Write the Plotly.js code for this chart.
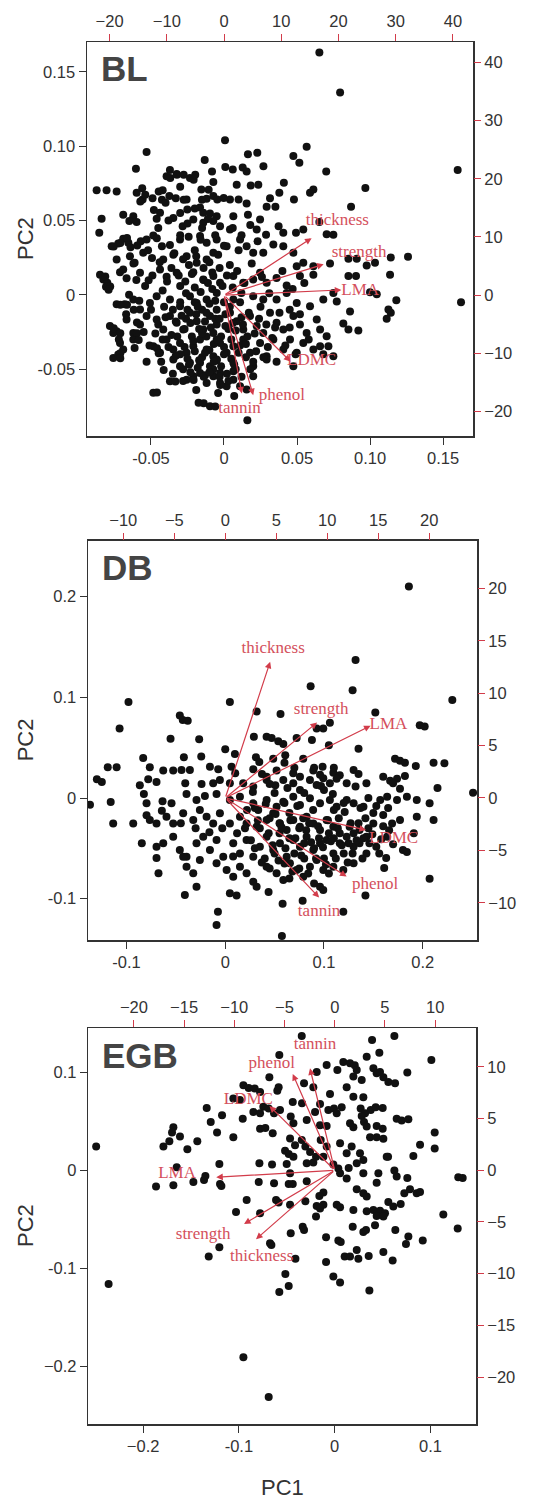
<!DOCTYPE html>
<html>
<head>
<meta charset="utf-8">
<script src="https://cdn.plot.ly/plotly-3.0.1.min.js"></script>
<style>html,body{margin:0;padding:0;background:#fff;}#chart{width:536px;height:1499px;}</style>
</head>
<body>
<div id="chart"></div>
<script>
// ---------------- DATA ----------------
const panelNames = ['BL', 'DB', 'EGB'];
const traits = ['thickness', 'strength', 'LMA', 'LDMC', 'phenol', 'tannin'];

// PC scores (PC1, PC2)
const blPoints = [
[0.0653,0.1629],[0.0795,0.1360],[0.1600,0.0839],[0.1623,-0.0049],[0.1260,0.0256],[0.0968,0.0718],[0.0566,0.0996],[0.0007,0.1040],[-0.0530,0.0960],[-0.0603,0.0848],[0.0475,0.0933],[0.0516,0.0888],[0.0700,0.0830],[0.0870,0.0592],
[0.0164,0.0946],[0.0228,0.0955],[-0.0132,0.0906],[-0.0370,0.0839],[-0.0324,0.0812],[0.0009,0.0860],[0.0060,0.0843],[0.0128,0.0856],[0.0155,0.0830],[0.0270,0.0865],[-0.0082,0.0830],[-0.0233,0.0785],[-0.0393,0.0798],
[-0.0872,0.0704],[-0.0804,0.0704],[-0.0735,0.0695],[-0.0560,0.0717],[-0.0420,0.0704],[-0.0300,0.0726],[-0.0155,0.0708],[-0.0073,0.0758],[0.0087,0.0740],[0.0183,0.0735],[0.0235,0.0740],[0.0410,0.0753],[0.0379,0.0686],[0.0589,0.0686],[0.0612,0.0708],[0.0315,0.0650],
[-0.0598,0.0686],[-0.0557,0.0641],[-0.0489,0.0650],[-0.0374,0.0664],[-0.0256,0.0641],[-0.0119,0.0646],[-0.0073,0.0664],[-0.0046,0.0641],[0.0041,0.0641],[0.0100,0.0641],[0.0479,0.0641],[0.0292,0.0592],[0.0352,0.0592],[0.0155,0.0614],[-0.0164,0.0587],[-0.0251,0.0574],[-0.0142,0.0552],[-0.0096,0.0547],[-0.0050,0.0529],
[-0.0838,0.0511],[-0.0690,0.0538],[-0.0621,0.0529],[-0.0648,0.0496],[-0.0598,0.0489],[-0.0854,0.0417],[-0.0461,0.0511],[-0.0438,0.0552],[-0.0347,0.0516],[-0.0283,0.0462],[-0.0210,0.0507],[-0.0142,0.0484],[-0.0073,0.0496],[-0.0027,0.0462],[0.0041,0.0439],[0.0064,0.0529],[0.0164,0.0538],[0.0247,0.0507],[0.0224,0.0439],[0.0288,0.0404],[0.0374,0.0462],[0.0406,0.0417],[0.0493,0.0417],[0.0543,0.0439],[0.0703,0.0408],[0.0749,0.0404],[0.0653,0.0489],
[-0.0769,0.0327],[-0.0724,0.0345],[-0.0690,0.0377],[-0.0655,0.0350],[-0.0594,0.0332],[-0.0530,0.0372],[-0.0484,0.0399],[-0.0425,0.0327],[-0.0370,0.0336],[-0.0301,0.0372],[-0.0242,0.0390],[-0.0164,0.0395],[-0.0119,0.0350],[-0.0050,0.0372],[0.0018,0.0327],[0.0110,0.0372],[0.0155,0.0327],[0.0200,0.0283],[0.0269,0.0283],[0.0338,0.0339],[0.0406,0.0327],[0.0475,0.0283],[0.0543,0.0215],[0.0612,0.0193],[0.0498,0.0193],
[-0.0735,0.0238],[-0.0644,0.0260],[-0.0612,0.0215],[-0.0553,0.0283],[-0.0493,0.0247],[-0.0416,0.0238],[-0.0347,0.0269],[-0.0256,0.0260],[-0.0187,0.0215],[-0.0119,0.0238],[-0.0073,0.0283],[-0.0849,0.0135],[-0.0826,0.0103],[-0.0799,0.0081],[-0.0808,0.0054],
[0.0852,0.0242],[0.0909,0.0242],[0.0852,0.0126],[0.0904,0.0126],[0.0977,0.0197],[0.1034,0.0215],[0.1137,0.0135],[0.1142,0.0251],[0.1000,0.0018],[0.1046,0.0004],[0.0726,0.0210],
[-0.0712,0.0152],[-0.0667,0.0112],[-0.0575,0.0148],[-0.0516,0.0099],[-0.0438,0.0170],[-0.0393,0.0121],[-0.0324,0.0148],[-0.0265,0.0090],[-0.0210,0.0152],[-0.0142,0.0103],[-0.0073,0.0126],[-0.0027,0.0081],[0.0064,0.0126],[0.0132,0.0081],[0.0200,0.0103],[0.0247,0.0148],[0.0292,0.0081],[0.0360,0.0114],[0.0429,0.0063],[0.0520,0.0126],[0.0612,0.0135],[0.0749,0.0013],[0.0772,-0.0045],
[0.1180,-0.0036],[0.1126,-0.0099],[0.1142,-0.0121],[0.1114,-0.0161],
[-0.0735,-0.0063],[-0.0680,-0.0063],[-0.0621,-0.0031],[-0.0575,-0.0099],[-0.0507,-0.0054],[-0.0461,-0.0009],[-0.0370,-0.0031],[-0.0301,-0.0076],[-0.0233,-0.0009],[-0.0187,-0.0054],[-0.0119,-0.0031],[-0.0050,0.0013],[0.0064,-0.0031],[0.0119,0.0013],[0.0200,-0.0009],[0.0269,-0.0031],[0.0360,-0.0031],[0.0429,0.0013],[0.0498,-0.0054],[0.0589,-0.0076],[0.0680,-0.0031],
[-0.0781,-0.0210],[-0.0735,-0.0244],[-0.0667,-0.0166],[-0.0621,-0.0256],[-0.0575,-0.0200],[-0.0530,-0.0143],[-0.0461,-0.0166],[-0.0416,-0.0233],[-0.0370,-0.0143],[-0.0324,-0.0188],[-0.0279,-0.0233],[-0.0233,-0.0121],[-0.0187,-0.0177],[-0.0142,-0.0233],[-0.0096,-0.0143],[-0.0050,-0.0200],[-0.0073,-0.0256],[0.0041,-0.0121],[0.0087,-0.0177],[0.0132,-0.0233],[0.0178,-0.0143],[0.0224,-0.0210],[0.0269,-0.0256],[0.0315,-0.0121],[0.0360,-0.0188],[0.0406,-0.0233],[0.0475,-0.0143],[0.0520,-0.0200],[0.0566,-0.0256],[0.0635,-0.0166],[0.0658,-0.0233],[0.0817,-0.0193],[0.0852,-0.0233],[0.0920,-0.0240],[0.0863,-0.0112],
[-0.0758,-0.0256],[-0.0712,-0.0323],[-0.0690,-0.0368],[-0.0621,-0.0300],[-0.0612,-0.0357],[-0.0484,-0.0345],[-0.0438,-0.0390],[-0.0393,-0.0300],[-0.0347,-0.0368],[-0.0301,-0.0323],[-0.0256,-0.0390],[-0.0210,-0.0345],[-0.0164,-0.0300],[-0.0119,-0.0368],[-0.0073,-0.0413],[-0.0027,-0.0323],[0.0018,-0.0390],[0.0064,-0.0345],[0.0132,-0.0300],[0.0178,-0.0390],[0.0247,-0.0323],[0.0292,-0.0413],[0.0338,-0.0300],[0.0406,-0.0368],[0.0452,-0.0300],[0.0498,-0.0390],[0.0543,-0.0323],[0.0612,-0.0368],[0.0658,-0.0345],[0.0703,-0.0278],[0.0715,-0.0345],[0.0680,-0.0399],[0.0749,-0.0413],[0.0475,-0.0480],
[-0.0347,-0.0435],[-0.0301,-0.0480],[-0.0233,-0.0457],[-0.0164,-0.0457],[-0.0096,-0.0480],[-0.0050,-0.0435],[0.0064,-0.0457],[0.0200,-0.0480],[0.0292,-0.0435],
[-0.0758,-0.0424],[-0.0724,-0.0401],
[-0.0484,-0.0659],[-0.0370,-0.0581],[-0.0256,-0.0570],[-0.0210,-0.0547],[-0.0164,-0.0525],[-0.0119,-0.0592],[-0.0073,-0.0547],[-0.0027,-0.0592],[0.0018,-0.0614],[0.0064,-0.0570],[0.0110,-0.0614],[0.0155,-0.0637],[-0.0174,-0.0726],[-0.0096,-0.0749],[0.0160,-0.0843],[-0.0027,-0.0525],[-0.0073,-0.0502],[0.0064,-0.0513],[0.0200,-0.0547],
[-0.035,-0.010],[-0.030,-0.005],[-0.025,-0.010],[-0.020,-0.005],[-0.015,-0.010],[-0.010,-0.006],[-0.005,-0.010],[0.000,-0.005],
[-0.032,-0.028],[-0.027,-0.023],[-0.022,-0.028],[-0.017,-0.023],[-0.012,-0.028],[-0.007,-0.033],[-0.002,-0.028],[0.003,-0.023],
[-0.030,-0.040],[-0.025,-0.043],[-0.020,-0.038],[-0.015,-0.042],[-0.010,-0.037],[-0.005,-0.044],[0.000,-0.040],[0.005,-0.043],
[-0.028,-0.050],[-0.023,-0.052],[-0.018,-0.049],[-0.013,-0.054],[-0.008,-0.050],[-0.003,-0.055],[0.002,-0.053],[0.008,-0.050],
[-0.040,-0.015],[-0.045,-0.020],[-0.050,-0.010],[-0.042,-0.030],[-0.038,-0.035],[-0.033,-0.018],[-0.026,-0.016],[-0.019,-0.013],
[-0.013,-0.018],[-0.006,-0.016],[0.001,-0.013],[0.006,-0.019],[0.012,-0.015],[0.016,-0.028],[0.011,-0.034],[0.015,-0.042],
[-0.020,0.005],[-0.014,0.010],[-0.008,0.004],[-0.030,0.006],[-0.036,0.018],[-0.042,0.003],[-0.024,0.020],[-0.010,0.022],
[-0.003,0.018],[0.004,0.020],[0.010,0.030],[-0.020,0.030],[-0.030,0.040],[-0.015,0.045],[-0.045,0.045],[-0.052,0.030],
[-0.060,0.010],[-0.055,-0.025],[-0.065,0.000],[0.025,-0.008],[0.030,-0.035],[0.020,-0.045],[0.035,-0.022],[0.045,-0.010],
[-0.0755,0.0325],[-0.0710,0.0348],[-0.0664,0.0382],[-0.0813,0.0123],[-0.0779,0.0056],[-0.0790,0.0034],[-0.0710,-0.0067],[-0.0664,-0.0067],[-0.0618,-0.0101],
[-0.0755,-0.0224],[-0.0710,-0.0258],[-0.0596,-0.0186],[-0.0596,-0.0258],[-0.0584,-0.0303],[-0.0710,-0.0392],[-0.0710,-0.0426],[-0.0459,-0.0359],[-0.0447,-0.0392],
[-0.0413,-0.0505],[-0.0333,-0.0583],[-0.0459,-0.0657],[-0.0139,-0.0729],[-0.0060,-0.0751],[-0.0208,-0.0572],[-0.0139,-0.0550],[-0.0025,-0.0606],
[-0.0368,0.0785],[-0.0322,0.0808],[-0.0276,0.0808],[-0.0208,0.0774],[-0.0197,0.0808],[-0.0447,0.0695],[-0.0539,0.0673],[-0.0425,0.0639],[-0.0573,0.0628],
[-0.0276,0.0639],[-0.0151,0.0639],[-0.0105,0.0707],[-0.0002,0.0651],
[-0.058,-0.004],[-0.054,0.006],[-0.049,0.013],[-0.047,-0.026],[-0.044,0.022],[-0.041,-0.008],[-0.039,0.009],[-0.036,-0.027],[-0.034,0.028],[-0.033,-0.041],[-0.031,0.013],[-0.029,-0.014],[-0.028,0.024],[-0.027,-0.035],[-0.026,0.001],[-0.024,-0.047],[-0.023,-0.019],[-0.022,0.014],[-0.021,-0.031],[-0.019,0.026],[-0.018,-0.008],[-0.017,-0.044],[-0.016,0.002],[-0.015,-0.026],[-0.014,0.018],[-0.013,-0.039],[-0.012,-0.012],[-0.011,0.008],[-0.010,-0.052],[-0.009,-0.022],[-0.008,0.015],[-0.007,-0.045],[-0.006,-0.004],[-0.005,-0.030],[-0.004,0.027],[-0.003,-0.016],[-0.002,-0.048],[-0.001,0.006],[0.000,-0.035],[0.001,-0.021],[0.002,0.013],[0.003,-0.058],[0.004,-0.008],[0.005,-0.030],[0.006,0.005],[0.007,-0.047],[0.008,-0.024],[0.009,0.016],[0.010,-0.039],[0.011,-0.005],[0.012,-0.055],[0.013,-0.020],[0.014,0.008],[0.015,-0.033],[0.017,-0.012],[0.018,-0.050],[0.019,0.021],[0.021,-0.026],[0.022,-0.038],[0.024,-0.016],[0.026,0.012],[0.027,-0.042],[0.029,-0.020],[0.031,0.001],[0.033,-0.029],[0.036,-0.045],[0.038,-0.012],[0.040,0.016],[0.042,-0.034],[0.045,-0.022],[0.047,0.004],[0.049,-0.040],[0.052,-0.013],[0.055,0.008],[0.058,-0.030],
[-0.062,0.021],[-0.057,0.036],[-0.051,-0.034],[-0.046,0.038],[-0.043,-0.045],[-0.038,0.050],[-0.035,-0.053],[-0.030,0.055],[-0.025,0.048],[-0.020,0.058],[-0.016,0.037],[-0.011,0.051],[-0.006,0.040],[0.000,0.033],[0.006,0.045],[0.012,0.040],[0.018,0.047],[0.023,0.036],[-0.067,-0.013],[-0.064,0.032],[-0.069,0.017],[-0.072,-0.030],[-0.048,0.057],[-0.053,-0.045],[-0.040,0.062],[-0.028,-0.058],[-0.019,-0.064],[-0.004,-0.066],[0.007,-0.068],[-0.033,0.065]
];

const dbPoints = [
[0.186,0.210],[0.132,0.137],[0.129,0.107],[0.0865,0.111],[0.0047,0.0954],[-0.098,0.0954],[0.230,0.0974],[0.0318,0.086],[0.056,0.0834],[0.152,0.0848],[-0.107,0.0689],[-0.046,0.082],[-0.043,0.0775],[-0.038,0.0768],[0.197,0.0722],[0.202,0.0709],[0.106,0.0748],[0.0926,0.0689],[0.0993,0.0689],[-0.0554,0.0589],[-0.0264,0.0583],[0.029,0.0609],[0.0419,0.0609],[0.047,0.0596],[0.0537,0.0563],[0.0588,0.0536],[0.0723,0.0596],[0.0878,0.0576],[0.105,0.0523],[0.135,0.049],[0.0,0.0483],[0.0098,0.0437],
[-0.0831,0.0397],[-0.0419,0.0404],[-0.0243,0.0411],[0.0311,0.0404],[0.0345,0.0358],[0.0486,0.0391],[0.0608,0.0424],[0.079,0.0391],[0.0986,0.0311],[0.172,0.0391],[0.177,0.0371],[0.182,0.0351],[0.193,0.0318],[0.211,0.0351],[0.222,0.0344],[-0.119,0.0305],[-0.110,0.0305],[-0.0764,0.0305],[-0.0628,0.0272],[-0.0527,0.0272],[-0.0443,0.0278],[-0.0358,0.0278],[-0.0155,0.0311],[-0.0071,0.0285],[0.0064,0.0311],[0.0101,0.0245],[0.0284,0.0285],[0.0372,0.0238],[0.0419,0.0212],[0.052,0.0272],[0.0689,0.0245],[0.0757,0.0212],[0.0892,0.0272],[0.096,0.0232],[0.1095,0.0252],[0.116,0.0225],[0.130,0.0278],[0.135,0.0238],[0.160,0.0212],[0.167,0.0172],[0.174,0.0192],[0.182,0.0219],[0.215,0.0099],
[-0.130,0.0185],[-0.125,0.0159],[-0.0865,0.0126],[-0.078,0.0185],[-0.0696,0.0159],[-0.0405,0.0146],[-0.024,0.0139],[-0.0122,0.0146],[-0.0054,0.0179],[0.0047,0.0146],[0.0182,0.0146],[0.0284,0.0113],[0.0419,0.0179],[0.0507,0.0126],[0.0588,0.0179],[0.0689,0.0146],[0.0757,0.0079],[0.0858,0.0179],[0.0926,0.0129],[0.0993,0.0195],[0.106,0.0146],[0.1128,0.0192],[0.123,0.0146],[0.132,0.0113],[0.143,0.0146],[0.170,0.0146],[0.177,0.0093],
[-0.137,-0.0066],[0.251,0.0053],[-0.116,-0.004],[-0.0824,0.004],[-0.0797,-0.0053],[-0.0635,-0.0033],[-0.0544,-0.0053],[-0.0392,0.004],[-0.0291,-0.002],[-0.0206,0.002],[-0.0088,0.004],[0.0047,-0.002],[0.0149,0.0013],[0.0284,-0.0053],[0.0334,-0.0119],[0.0419,-0.002],[0.052,-0.0086],[0.0588,-0.0036],[0.0689,0.0013],[0.0757,-0.007],[0.0858,-0.0003],[0.096,-0.0053],[0.106,-0.002],[0.1128,-0.0086],[0.123,-0.002],[0.130,-0.0053],[0.140,-0.0086],[0.157,-0.002],[0.164,0.0013],[0.174,-0.002],[0.184,0.0013],[0.194,-0.002],[0.207,-0.0053],
[-0.1135,-0.0252],[-0.0932,-0.0252],[-0.0797,-0.0172],[-0.0764,-0.0219],[-0.0696,-0.0252],[-0.0642,-0.0126],[-0.0595,-0.0185],[-0.0527,-0.0252],[-0.0426,-0.0152],[-0.0324,-0.0219],[-0.0257,-0.0119],[-0.0189,-0.0185],[-0.0122,-0.0252],[-0.0054,-0.0152],[0.0047,-0.0252],[0.0149,-0.0185],[0.0216,-0.0252],[0.0318,-0.0285],[0.0419,-0.0219],[0.0486,-0.0152],[0.0554,-0.0252],[0.0622,-0.0318],[0.0689,-0.0219],[0.0757,-0.0285],[0.0824,-0.0185],[0.0892,-0.0252],[0.096,-0.0318],[0.1027,-0.0219],[0.1095,-0.0285],[0.116,-0.0351],[0.126,-0.0285],[0.136,-0.0318],[0.143,-0.0384],[0.150,-0.0252],[0.160,-0.0169],[0.169,-0.0252],[0.177,-0.0219],[0.194,-0.0185],[0.211,-0.0219],[0.191,-0.0351],
[-0.0845,-0.045],[-0.0696,-0.0483],[-0.0628,-0.045],[-0.0696,-0.0596],[-0.0676,-0.0748],[-0.0527,-0.0384],[-0.046,-0.0517],[-0.0392,-0.0583],[-0.0291,-0.045],[-0.0223,-0.0384],[-0.0155,-0.0517],[-0.0088,-0.0417],[-0.002,-0.0583],[0.0081,-0.045],[0.0149,-0.055],[0.0216,-0.0417],[0.0284,-0.0583],[0.0351,-0.0483],[0.0419,-0.0384],[0.0486,-0.0517],[0.0554,-0.045],[0.0622,-0.0583],[0.0689,-0.0417],[0.0757,-0.0483],[0.0824,-0.0384],[0.0892,-0.0517],[0.096,-0.045],[0.1027,-0.0417],[0.1095,-0.055],[0.116,-0.045],[0.123,-0.0384],[0.130,-0.0483],[0.136,-0.045],[0.143,-0.055],[0.153,-0.0483],[0.164,-0.0384],[0.180,-0.0517],[0.184,-0.0536],[0.163,-0.0596],
[-0.0426,-0.0583],[-0.0392,-0.0682],[-0.0324,-0.0748],[-0.0257,-0.0616],[-0.0291,-0.088],[-0.0409,-0.0963],[-0.0088,-0.0649],[0.0014,-0.0715],[0.0081,-0.0781],[0.0047,-0.0947],[0.0115,-0.0967],[0.0149,-0.0682],[0.0216,-0.0748],[0.0284,-0.0831],[0.0318,-0.088],[0.0439,-0.0934],[0.0419,-0.0682],[0.052,-0.0748],[0.0588,-0.0815],[0.0655,-0.0649],[0.0723,-0.0715],[0.079,-0.0781],[0.0858,-0.0682],[0.0926,-0.0616],[0.0993,-0.0715],[0.096,-0.088],[0.0993,-0.0914],[0.1095,-0.0682],[0.1196,-0.0715],[0.130,-0.0649],[0.142,-0.0967],[0.161,-0.0695],[0.207,-0.0801],[0.0784,-0.102],[0.0581,-0.105],[0.1196,-0.113],[-0.0074,-0.113],[-0.0088,-0.126],[0.0574,-0.137],
[0.035,-0.030],[0.045,-0.020],[0.055,-0.035],[0.065,-0.015],[0.075,-0.030],[0.085,-0.025],[0.095,-0.040],[0.105,-0.035],[0.115,-0.020],[0.125,-0.045],[0.135,-0.025],[0.145,-0.030],
[0.030,-0.050],[0.040,-0.060],[0.050,-0.055],[0.060,-0.065],[0.070,-0.055],[0.080,-0.060],[0.090,-0.050],[0.100,-0.060],[0.110,-0.040],[0.120,-0.055],[0.130,-0.035],[0.140,-0.040],
[0.020,-0.030],[0.030,-0.010],[0.050,0.005],[0.060,-0.005],[0.080,0.005],[0.100,0.008],[0.110,-0.012],[0.120,-0.005],[0.150,-0.015],[0.160,-0.028],[0.090,0.030],[0.060,0.035],
[0.045,-0.070],[0.065,-0.080],[0.075,-0.070],[0.090,-0.085],[0.105,-0.075],[0.080,-0.045],[0.065,-0.040],[0.055,-0.025],
[0.022,-0.012],[0.026,-0.042],[0.033,-0.022],[0.037,-0.064],[0.041,-0.006],[0.044,-0.035],[0.048,-0.047],[0.051,-0.016],[0.054,-0.062],[0.057,-0.029],[0.061,-0.050],[0.063,0.010],[0.066,-0.022],[0.068,-0.073],[0.071,-0.040],[0.073,-0.008],[0.077,-0.057],[0.079,-0.020],[0.082,-0.032],[0.084,-0.075],[0.087,-0.044],[0.089,-0.012],[0.092,-0.060],[0.094,-0.028],[0.097,0.012],[0.099,-0.049],[0.102,-0.066],[0.104,-0.022],[0.107,-0.043],[0.109,0.004],[0.112,-0.060],[0.114,-0.030],[0.118,-0.047],[0.121,-0.014],[0.124,-0.064],[0.127,-0.025],[0.129,-0.055],[0.133,-0.042],[0.137,-0.010],[0.139,-0.060],[0.142,-0.020],[0.146,-0.045],[0.149,-0.036],[0.153,-0.008],[0.156,-0.055],[0.158,-0.041],[0.166,-0.032],[0.170,-0.046],[0.012,-0.035],[0.008,-0.058],[-0.003,-0.030],[-0.016,-0.034],[-0.030,-0.030],[-0.045,-0.025],[0.028,0.006],[0.045,0.014],[0.070,0.030],[0.110,0.030],[0.145,0.000],[0.165,-0.010]
];

const egbPoints = [
[-0.249,0.0241],[-0.236,-0.1157],[-0.0953,-0.1904],[-0.0689,-0.231],[-0.0344,0.1368],[0.0623,0.1368],[0.039,0.1327],[0.0466,0.1198],[-0.0578,0.1174],[0.1009,0.1124],[-0.0084,0.1073],[0.0028,0.1022],[0.009,0.1103],[0.016,0.109],[0.0209,0.1069],[0.023,0.1022],[0.0282,0.092],[0.0195,0.0954],[0.0334,0.1157],[0.0404,0.1039],[0.0438,0.0988],[0.0473,0.1001],[0.0508,0.0947],[0.056,0.09],[0.063,0.0886],[0.0758,0.0995],[-0.0188,0.1001],[-0.032,0.0886],[-0.0682,0.0947],[-0.0953,0.0866],[-0.0898,0.0838],[-0.0835,0.0832],[-0.0779,0.0798],[-0.1058,0.073],[-0.099,0.0716],[-0.0585,0.0845],[-0.0599,0.0811],[-0.0223,0.0845],[-0.0049,0.0777],[0.0125,0.0845],[0.0195,0.075],[0.0299,0.0743],[-0.0153,0.0675],[-0.0438,0.0696],[-0.0341,0.0682],[-0.1336,0.0635],[-0.0745,0.0648],[-0.0689,0.0628],[-0.0633,0.058],[-0.0571,0.0614],[-0.0849,0.0594],[-0.0779,0.058],[-0.0205,0.0594],[-0.0066,0.0614],[-0.0007,0.0628],[0.0073,0.0642],[0.0021,0.058],[0.0271,0.0628],[0.0317,0.058],[0.0376,0.0614],[0.0428,0.0642],[0.0501,0.0635],[0.0647,0.0526],[0.0699,0.0506],[0.0769,0.0519],[-0.1176,0.056],[-0.1294,0.0492],[-0.096,0.0526],[-0.0779,0.0424],[-0.0724,0.0431],[-0.0647,0.0377],[-0.0459,0.0547],[-0.0431,0.0479],[-0.0292,0.0513],[-0.0153,0.0458],[-0.0084,0.0451],[0.016,0.0479],[0.0195,0.0438],[0.0282,0.0553],[0.0306,0.0492],[0.0334,0.0445],[0.0438,0.0451],[0.0501,0.0424],
[-0.1684,0.0438],[-0.1698,0.0384],[-0.1788,0.0241],[-0.1726,0.0295],[-0.1615,0.0343],[-0.1538,0.0214],[-0.1434,0.0295],[-0.1228,0.0384],[-0.1058,0.0336],[-0.0466,0.0323],[-0.0414,0.0255],[-0.0344,0.0309],[-0.0518,0.02],[-0.048,0.0166],[-0.0431,0.0139],[-0.0306,0.0241],[-0.0257,0.0187],[-0.0195,0.0139],[-0.0146,0.0309],[-0.0084,0.0241],[-0.0118,0.0139],[0.0056,0.0275],[0.0125,0.0173],[0.0177,0.0241],[0.0264,0.0173],[0.0299,0.0105],[0.0369,0.0336],[0.0438,0.0336],[0.0508,0.0322],[0.0543,0.0139],[0.0557,0.0139],[0.0891,0.0261],[0.0821,0.0146],[0.1044,0.0384],[0.1044,0.0221],[0.129,-0.0071],[0.1336,-0.0078],
[-0.0292,0.0071],[-0.0223,0.0078],[-0.0014,0.0058],[0.0038,0.0017],[0.0056,-0.0031],[0.0146,0.0024],[0.023,0.0071],[0.0299,-0.0031],[-0.0501,0.0064],[-0.0466,-0.0031],[-0.0786,0.0071],[-0.0654,0.0058],[-0.1204,0.0064],[-0.1649,0.0031],[-0.1364,-0.0098],[-0.135,-0.0058],[-0.1475,-0.0119],[-0.1684,-0.0153],[-0.1865,-0.0166],[-0.1197,-0.0139],[-0.1183,-0.016],[-0.0793,-0.0119],[-0.0633,-0.0132],[-0.048,-0.0139],[-0.0438,-0.0139],[-0.0292,-0.0112],[-0.0118,-0.0227],[-0.016,-0.0261],[0.023,-0.0193],[0.0299,-0.0234],[0.0334,-0.0268],[0.0438,-0.0126],[0.0456,-0.0031],[0.0623,-0.0003],[0.0647,-0.0064],[0.0758,-0.0078],[0.0727,-0.0234],[0.0786,-0.0193],[0.0856,-0.0234],[0.0891,-0.0221],[0.0125,-0.0085],
[-0.0919,-0.0302],[-0.103,-0.0424],[-0.0779,-0.0438],[-0.0612,-0.0302],[-0.0585,-0.0329],[-0.0466,-0.035],[-0.0188,-0.0363],[-0.0118,-0.035],[-0.0306,-0.0316],[-0.0153,-0.039],[-0.0195,-0.0472],[0.0021,-0.035],[0.0056,-0.0377],[0.0195,-0.0404],[0.0334,-0.0417],[0.0404,-0.0404],[0.0473,-0.0411],[0.0525,-0.0438],[0.056,-0.0322],[0.0612,-0.037],[0.0689,-0.0343],[0.0438,-0.0465],[0.0508,-0.0472],[0.1134,-0.0451],[0.1284,-0.0594],
[-0.0334,-0.0574],[-0.032,-0.0608],[-0.0459,-0.0642],[-0.009,-0.0682],[0.0038,-0.0716],[0.0063,-0.073],[0.0188,-0.0574],[0.0299,-0.0628],[0.0327,-0.0608],[0.0421,-0.056],[0.0633,-0.0608],[0.0769,-0.0675],[0.0744,-0.075],[0.0919,-0.0716],[-0.0675,-0.0743],[-0.0661,-0.076],[-0.1204,-0.0784],[-0.1315,-0.0879],[-0.041,-0.09],[0.0104,-0.0879],[0.016,-0.0879],[0.0247,-0.09],[0.023,-0.0811],[0.0355,-0.0872],[0.0508,-0.0832],[0.0605,-0.092],[-0.009,-0.0933],[-0.0515,-0.1056],[-0.048,-0.1178],[-0.0578,-0.1239],[-0.0014,-0.1083],[0.0056,-0.1144],[0.0362,-0.1225]
];

// Loading arrows (secondary scale): tips, and label positions
const blArrowX = [15.3, 17.4, 20.5, 11.6, 5.1, 3.1];
const blArrowY = [9.8, 5.3, 0.9, -11.4, -17.2, -16.9];
const blLabelX = [19.8, 23.6, 23.8, 15.3, 10.1, 2.7];
const blLabelY = [12.8, 7.3, 0.7, -11.3, -17.2, -19.5];

const dbArrowX = [4.4, 9.0, 14.25, 13.8, 11.9, 9.2];
const dbArrowY = [13.0, 7.2, 6.9, -3.05, -7.5, -9.5];
const dbLabelX = [4.7, 9.4, 16.0, 16.5, 14.7, 9.2];
const dbLabelY = [14.25, 8.4, 7.0, -3.9, -8.3, -10.9];

const egbArrowX = [-7.84, -9.03, -11.8, -6.5, -4.18, -2.46];
const egbArrowY = [-6.67, -5.19, -0.68, 6.22, 9.32, 9.86];
const egbLabelX = [-7.27, -13.1, -15.7, -8.6, -6.27, -1.96];
const egbLabelY = [-8.35, -6.25, -0.35, 6.8, 10.28, 12.12];

// Tick values / labels
const blXTicks = [-0.05, 0, 0.05, 0.10, 0.15];
const blXTickText = ['-0.05', '0', '0.05', '0.10', '0.15'];
const blYTicks = [-0.05, 0, 0.05, 0.10, 0.15];
const blYTickText = ['-0.05', '0', '0.05', '0.10', '0.15'];
const blTopTicks = [-20, -10, 0, 10, 20, 30, 40];
const blRightTicks = [-20, -10, 0, 10, 20, 30, 40];

const dbXTicks = [-0.1, 0, 0.1, 0.2];
const dbXTickText = ['-0.1', '0', '0.1', '0.2'];
const dbYTicks = [-0.1, 0, 0.1, 0.2];
const dbYTickText = ['-0.1', '0', '0.1', '0.2'];
const dbTopTicks = [-10, -5, 0, 5, 10, 15, 20];
const dbRightTicks = [-10, -5, 0, 5, 10, 15, 20];

const egbXTicks = [-0.2, -0.1, 0, 0.1];
const egbXTickText = ['\u22120.2', '-0.1', '0', '0.1'];
const egbYTicks = [-0.2, -0.1, 0, 0.1];
const egbYTickText = ['\u22120.2', '-0.1', '0', '0.1'];
const egbTopTicks = [-20, -15, -10, -5, 0, 5, 10];
const egbRightTicks = [-20, -15, -10, -5, 0, 5, 10];

// ---------------- LAYOUT ----------------
const W = 536, H = 1499;
const RED = '#d23c4a';
const TXTRED = '#d4505c';
const AX = '#333333';
const tickFont = {family: 'Liberation Sans, Arial, sans-serif', size: 16.5, color: '#333'};

const panels = [
  {name: panelNames[0], pts: blPoints, ax: blArrowX, ay: blArrowY, lx: blLabelX, ly: blLabelY,
   box: [87, 473, 42, 436], xr: [-0.0938, 0.1705], yr: [-0.0949, 0.170], x2r: [-23.95, 43.5], y2r: [-24.2, 43.5],
   xt: blXTicks, xtt: blXTickText, yt: blYTicks, ytt: blYTickText, tt: blTopTicks, rt: blRightTicks},
  {name: panelNames[1], pts: dbPoints, ax: dbArrowX, ay: dbArrowY, lx: dbLabelX, ly: dbLabelY,
   box: [88, 477, 540.7, 940], xr: [-0.139, 0.255], yr: [-0.141, 0.2555], x2r: [-13.46, 24.68], y2r: [-13.55, 24.55],
   xt: dbXTicks, xtt: dbXTickText, yt: dbYTicks, ytt: dbYTickText, tt: dbTopTicks, rt: dbRightTicks},
  {name: panelNames[2], pts: egbPoints, ax: egbArrowX, ay: egbArrowY, lx: egbLabelX, ly: egbLabelY,
   box: [88.3, 476, 1028, 1424], xr: [-0.2572, 0.1475], yr: [-0.2584, 0.1449], x2r: [-24.54, 14.07], y2r: [-24.54, 13.76],
   xt: egbXTicks, xtt: egbXTickText, yt: egbYTicks, ytt: egbYTickText, tt: egbTopTicks, rt: egbRightTicks}
];

const traces = [];
const annotations = [];
const layout = {
  width: W, height: H,
  margin: {l: 0, r: 0, t: 0, b: 0},
  paper_bgcolor: '#fff', plot_bgcolor: '#fff',
  showlegend: false,
  font: {family: 'Liberation Sans, Arial, sans-serif', color: '#333'}
};

panels.forEach((p, i) => {
  const n1 = 2 * i + 1, n2 = 2 * i + 2;
  const xa = 'xaxis' + (n1 === 1 ? '' : n1), ya = 'yaxis' + (n1 === 1 ? '' : n1);
  const xa2 = 'xaxis' + n2, ya2 = 'yaxis' + n2;
  const xid = 'x' + (n1 === 1 ? '' : n1), yid = 'y' + (n1 === 1 ? '' : n1);
  const xid2 = 'x' + n2, yid2 = 'y' + n2;
  const dx = [p.box[0] / W, p.box[1] / W];
  const dy = [1 - p.box[3] / H, 1 - p.box[2] / H];

  layout[xa] = {domain: dx, anchor: yid, range: p.xr, tickvals: p.xt, ticktext: p.xtt,
    ticks: 'outside', ticklen: 7, tickwidth: 1, tickcolor: AX, tickfont: tickFont,
    showline: true, mirror: true, linecolor: AX, linewidth: 1.5, showgrid: false, zeroline: false, fixedrange: true};
  layout[ya] = {domain: dy, anchor: xid, range: p.yr, tickvals: p.yt, ticktext: p.ytt,
    ticks: 'outside', ticklen: 7, tickwidth: 1, tickcolor: AX, tickfont: tickFont,
    showline: true, mirror: true, linecolor: AX, linewidth: 1.5, showgrid: false, zeroline: false, fixedrange: true};
  layout[xa2] = {overlaying: xid, side: 'top', anchor: yid, range: p.x2r, tickvals: p.tt,
    ticks: 'outside', ticklen: 7, tickwidth: 1, tickcolor: RED, tickfont: tickFont,
    showline: false, showgrid: false, zeroline: false, fixedrange: true};
  layout[ya2] = {overlaying: yid, side: 'right', anchor: xid, range: p.y2r, tickvals: p.rt,
    ticks: 'outside', ticklen: 7, tickwidth: 1, tickcolor: RED, tickfont: tickFont,
    showline: false, showgrid: false, zeroline: false, fixedrange: true};

  traces.push({
    type: 'scatter', mode: 'markers', xaxis: xid, yaxis: yid,
    x: p.pts.map(d => d[0]), y: p.pts.map(d => d[1]),
    marker: {size: 8, color: '#111'}, hoverinfo: 'skip'
  });
  traces.push({
    type: 'scatter', mode: 'text', xaxis: xid2, yaxis: yid2,
    x: p.lx, y: p.ly, text: traits, textposition: 'middle center',
    textfont: {family: 'Liberation Serif, Times New Roman, serif', size: 17, color: TXTRED},
    hoverinfo: 'skip'
  });
  traits.forEach((t, k) => {
    annotations.push({xref: xid2, yref: yid2, axref: xid2, ayref: yid2,
      x: p.ax[k], y: p.ay[k], ax: 0, ay: 0, text: '', showarrow: true,
      arrowhead: 2, arrowsize: 1.1, arrowwidth: 1.2, arrowcolor: RED, standoff: 0});
  });
  annotations.push({xref: 'paper', yref: 'paper', x: (p.box[0] + 12) / W, y: 1 - (p.box[2] + 27) / H,
    xanchor: 'left', yanchor: 'middle', showarrow: false, text: '<b>' + p.name + '</b>',
    font: {family: 'Liberation Sans, Arial, sans-serif', size: 35, color: '#444'}});
  annotations.push({xref: 'paper', yref: 'paper', x: 25 / W, y: 1 - ((p.box[2] + p.box[3]) / 2) / H,
    xanchor: 'center', yanchor: 'middle', showarrow: false, text: 'PC2', textangle: -90,
    font: {family: 'Liberation Sans, Arial, sans-serif', size: 22, color: '#333'}});
});
annotations.push({xref: 'paper', yref: 'paper', x: 282 / W, y: 1 - 1487 / H,
  xanchor: 'center', yanchor: 'middle', showarrow: false, text: 'PC1',
  font: {family: 'Liberation Sans, Arial, sans-serif', size: 22, color: '#333'}});
layout.annotations = annotations;

Plotly.newPlot('chart', traces, layout, {staticPlot: true, displayModeBar: false});
</script>
</body>
</html>
